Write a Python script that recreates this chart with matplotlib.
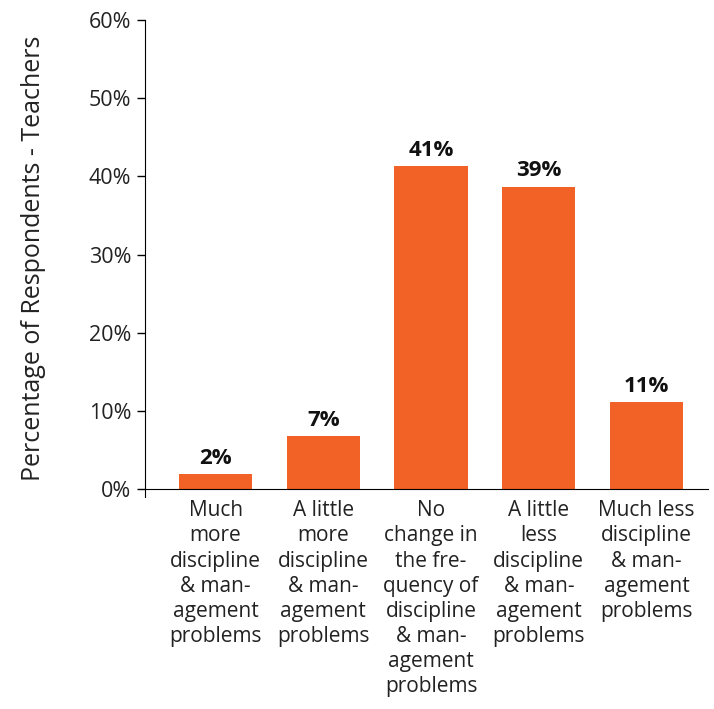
import matplotlib
matplotlib.use("Agg")
import matplotlib.pyplot as plt

categories = [
    "Much\nmore\ndiscipline\n& man-\nagement\nproblems",
    "A little\nmore\ndiscipline\n& man-\nagement\nproblems",
    "No\nchange in\nthe fre-\nquency of\ndiscipline\n& man-\nagement\nproblems",
    "A little\nless\ndiscipline\n& man-\nagement\nproblems",
    "Much less\ndiscipline\n& man-\nagement\nproblems",
]
values = [1.9, 6.8, 41.3, 38.7, 11.1]
labels = ["2%", "7%", "41%", "39%", "11%"]
yticks = [0, 10, 20, 30, 40, 50, 60]

plt.rcParams['font.family'] = ['Open Sans', 'DejaVu Sans']
TXT = "#222222"

fig = plt.figure(figsize=(7.14, 7.09), dpi=100)
ax = fig.add_axes([145/714, 1-497/709, (708-145)/714, (497-20)/709])

x = list(range(len(categories)))
bars = ax.bar(x, values, width=0.68, color="#F26125")
for xi, v, lab in zip(x, values, labels):
    ax.text(xi, v + 0.7, lab, ha="center", va="bottom", fontsize=16, fontweight="bold", color="#111111")

ax.set_xlim(-0.655, 4.57)
ax.set_ylim(-1, 60)
ax.spines['top'].set_visible(False)
ax.spines['right'].set_visible(False)
ax.spines['bottom'].set_position(('data', 0))
ax.spines['left'].set_bounds(-1, 60)
ax.set_yticks(yticks)
ax.set_yticklabels([f"{t}%" for t in yticks], fontsize=15.5, color=TXT)
ax.tick_params(axis='y', length=6, width=1, direction='out', pad=4)
ax.set_xticks(x)
ax.set_xticklabels(categories, fontsize=15, linespacing=1.26, va="top", color=TXT)
ax.tick_params(axis='x', length=0, pad=8)
ax.set_ylabel("Percentage of Respondents - Teachers", fontsize=18, labelpad=31, color=TXT)

fig.savefig("out.png", dpi=100)
